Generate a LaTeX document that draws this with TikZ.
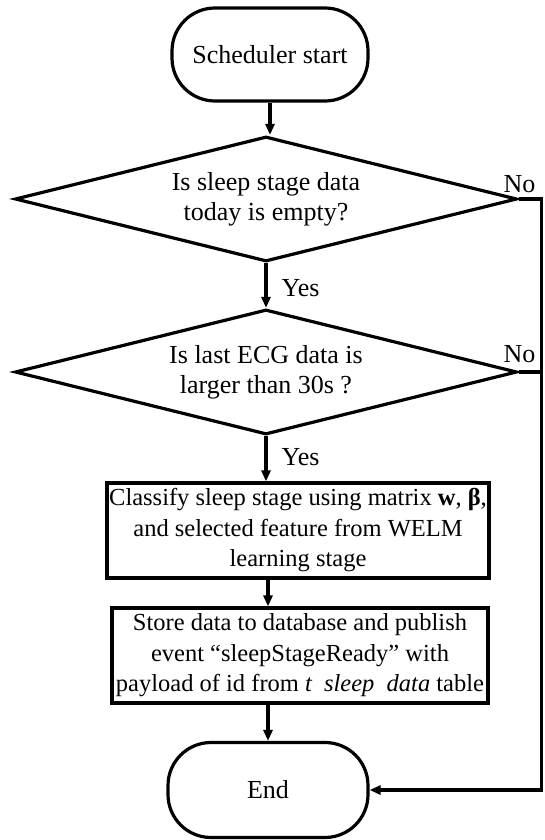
\documentclass[tikz,border=0pt]{standalone}
\usepackage{fontspec}
\setmainfont{Liberation Serif}
\usetikzlibrary{shapes.geometric,arrows.meta}
\begin{document}
\begin{tikzpicture}[x=1pt,y=-1pt,line width=3.2pt,
  terminal/.style={draw, rectangle, rounded corners=43pt, minimum width=196pt,
    minimum height=93pt, font=\fontsize{26}{31}\selectfont},
  decision/.style={draw, diamond, aspect=4, minimum width=502pt, minimum height=125pt,
    inner sep=0pt, align=center, font=\fontsize{26}{30}\selectfont},
  process/.style={draw, rectangle, inner sep=0pt, align=center,
    font=\fontsize{24.5}{30.5}\selectfont},
  flow/.style={-{Triangle[length=11pt,width=9pt]}},
  lbl/.style={font=\fontsize{26}{31}\selectfont, inner sep=0pt}]
\useasboundingbox (0,0) rectangle (545,840);

% flowchart nodes
\node[terminal] (start) at (270,54.5) {Scheduler start};
\node[decision] (q1) at (266,199) {Is sleep stage data\\today is empty?};
\node[decision] (q2) at (266,372) {Is last ECG data is\\larger than 30s ?};
\node[process, minimum width=382pt, minimum height=95pt] (cls) at (298,530.5)
  {Classify sleep stage using matrix \textbf{w}, \textbf{β},\\
   and selected feature from WELM\\learning stage};
\node[process, minimum width=376pt, minimum height=95pt] (store) at (300,655.5)
  {Store data to database and publish\\
   event “sleepStageReady” with\\
   payload of id from \textit{t\enspace sleep\enspace data} table};
\node[terminal, minimum width=200pt, minimum height=95pt] (end) at (268,790) {End};

% main flow
\draw[flow] (start.south) -- (start.south |- q1.north);
\draw[flow] (q1.south) -- (q2.north);
\draw[flow] (q2.south) -- (q2.south |- cls.north);
\draw[flow] (cls.south -| end.north) -- (store.north -| end.north);
\draw[flow] (store.south -| end.north) -- (end.north);

% branch labels
\node[lbl, anchor=base west] (yes1) at (280,296) {Yes};
\node[lbl, anchor=base west] (yes2) at (280,465) {Yes};
\node[lbl, anchor=base east] (no1) at (537,192) {No};
\node[lbl, anchor=base east] (no2) at (537,362) {No};

% "No" return rail
\coordinate (rail) at (541.5,0);
\draw[flow] (q1.east) -- (q1.east -| rail) -- (end.east -| rail) -- (end.east);
\draw (q2.east) -- (q2.east -| rail);
\end{tikzpicture}
\end{document}
